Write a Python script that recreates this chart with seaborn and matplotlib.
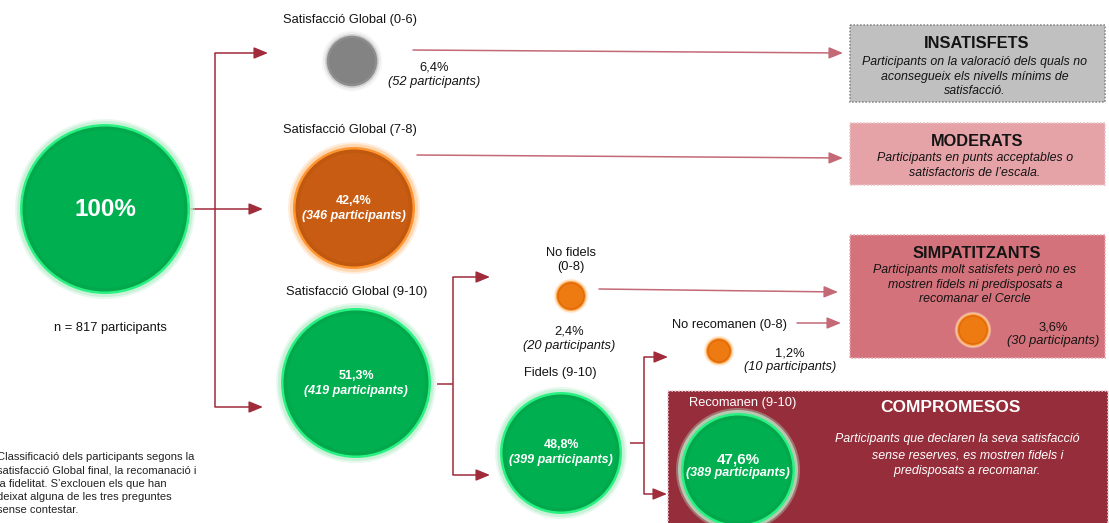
import matplotlib
matplotlib.use("Agg")
import matplotlib.pyplot as plt
import numpy as np
import pandas as pd
import seaborn as sns
from matplotlib.patches import Rectangle

# ---------------------------------------------------------------- data
segments = ["Total", "Satisfacció Global (0-6)", "Satisfacció Global (7-8)",
            "Satisfacció Global (9-10)", "No fidels\n(0-8)", "Fidels (9-10)",
            "No recomanen (0-8)", "Recomanen (9-10)", "Simpatitzants"]
percentages = [100.0, 6.4, 42.4, 51.3, 2.4, 48.8, 1.2, 47.6, 3.6]
participants = [817, 52, 346, 419, 20, 399, 10, 389, 30]
tones = ["green", "gray", "orange", "green", "amber", "green", "amber", "green", "amber"]

profiles = ["INSATISFETS", "MODERATS", "SIMPATITZANTS", "COMPROMESOS"]
profile_texts = [
    "Participants on la valoració dels quals no\naconsegueix els nivells mínims de\nsatisfacció.",
    "Participants en punts acceptables o\nsatisfactoris de l’escala.",
    "Participants molt satisfets però no es\nmostren fidels ni predisposats a\nrecomanar el Cercle",
    "Participants que declaren la seva satisfacció\n      sense reserves, es mostren fidels i\n      predisposats a recomanar.",
]
note = ("Classificació dels participants segons la\n"
        "satisfacció Global final, la recomanació i\n"
        "la fidelitat. S’exclouen els que han\n"
        "deixat alguna de les tres preguntes\n"
        "sense contestar.")

# ---------------------------------------------------------------- layout (pixel canvas)
W, H, DPI = 1109, 523, 100
bx = [105, 352, 354, 356, 571, 561, 719, 738, 973]
by = [209, 61, 208, 383, 296, 453, 351, 470, 330]
br = [85, 27, 61, 75, 15, 61, 13, 57, 16]

# value-label placement: (x, y, inside bubble?)
val_pos = [None, (434, 68, False), (354, 201, True), (356, 376, True),
           (569, 332, False), (561, 445, True), (790, 353, False),
           (738, 459, True), (1053, 327, False)]
name_pos = [None, (350, 20), (350, 130), (357, 292), (571, 260),
            (560, 373), (729, 325), (743, 403), None]

box_rects = [(850, 25, 255, 77), (850, 123, 255, 62), (850, 235, 255, 123), (668, 391, 440, 150)]
box_face = ["#C0C0C0", "#E5A3A8", "#D4727B", "#962D3A"]
box_edge = ["#8C8C8C", "#EBC4C7", "#E6A9AE", "#E8CACE"]
box_title_xy = [(977, 43), (977, 141), (977, 253), (950, 408)]
box_text_xy = [(975, 56), (975, 152), (975, 264), (957, 433)]

tone_colors = {
    "glow": {"green": "#BDEFCF", "orange": "#FFCFA0", "amber": "#FFD9B0", "gray": "#EBEBEB"},
    "rim": {"green": "#2AF282", "orange": "#FF9530", "amber": "#FFA040", "gray": "#D2D2D2"},
    "shade": {"green": "#03A84C", "orange": "#C05810", "amber": "#E06A0C", "gray": "#8E8E8E"},
    "core": {"green": "#00B050", "orange": "#C75C12", "amber": "#EE7A12", "gray": "#838383"},
}

sns.set_theme(style="white")
plt.rcParams["font.family"] = ["Liberation Sans", "DejaVu Sans"]

fig = plt.figure(figsize=(W / DPI, H / DPI), dpi=DPI)
ax = fig.add_axes([0, 0, 1, 1])
ax.set_xlim(0, W)
ax.set_ylim(H, 0)
ax.axis("off")


def fmt_pct(p):
    return f"{p:.1f}".replace(".", ",") + "%"


# ---------------------------------------------------------------- profile boxes
for (x0, y0, w, h), fc, ec in zip(box_rects, box_face, box_edge):
    ax.add_patch(Rectangle((x0, y0), w, h, facecolor=fc, edgecolor=ec,
                           linestyle=(0, (1, 1)), linewidth=1.2, zorder=1))

for i, (name, txt) in enumerate(zip(profiles, profile_texts)):
    dark = i == 3
    tc = "white" if dark else "#141414"
    tx, ty = box_title_xy[i]
    ax.text(tx, ty, name, ha="center", va="center", fontsize=12.5 if dark else 11.8,
            fontweight="bold", color=tc, zorder=5)
    dx, dy = box_text_xy[i]
    ax.text(dx, dy, txt, ha="center", va="top", fontsize=8.9, style="italic",
            color=tc, linespacing=1.45 if dark else 1.3, zorder=5)

# ---------------------------------------------------------------- connectors
main_c = "#A02B3B"
pale_c = "#C46A76"


def seg(p, q, color=main_c, lw=1.1):
    ax.plot([p[0], q[0]], [p[1], q[1]], color=color, lw=lw, solid_capstyle="butt", zorder=2)


def arrow(p, q, color=main_c, lw=1.1):
    ax.annotate("", xy=q, xytext=p,
                arrowprops=dict(arrowstyle="-|>,head_length=0.85,head_width=0.35",
                                color=color, lw=lw, shrinkA=0, shrinkB=0,
                                mutation_scale=10), zorder=2)


# total -> three satisfaction levels
seg((215, 53), (215, 407))
arrow((190, 209), (263, 209))
arrow((215, 53), (268, 53))
arrow((215, 407), (263, 407))
# satisfaction 0-6 / 7-8 -> profiles
arrow((413, 50), (843, 53), pale_c)
arrow((417, 155), (843, 158), pale_c)
# satisfaction 9-10 -> loyalty split
seg((437, 384), (453, 384))
seg((453, 277), (453, 475))
arrow((453, 277), (490, 277))
arrow((453, 475), (490, 475))
arrow((599, 289), (838, 292), pale_c)
# loyal -> recommendation split
seg((630, 443), (644, 443))
seg((644, 357), (644, 494))
arrow((644, 357), (668, 357))
arrow((644, 494), (667, 494))
arrow((797, 323), (841, 323), pale_c)

# ---------------------------------------------------------------- bubbles
bubbles = pd.DataFrame({"segment": segments, "pct": percentages, "n": participants,
                        "tone": tones, "x": bx, "y": by, "r": br})


def pts_area(radius_px):
    d = 2 * np.asarray(radius_px, dtype=float) * 72.0 / DPI
    return d ** 2


def glow_radius(r, px):
    return np.asarray(r, dtype=float) + px


layers = [("glow", 5, 0.35), ("glow", 3, 0.7), ("rim", 0, 1.0),
          ("shade", -2.5, 1.0), ("core", -6, 1.0)]
for key, pad, alpha in layers:
    rr = glow_radius(bubbles["r"], pad * np.clip(bubbles["r"] / 40, 0.45, 1.0))
    sns.scatterplot(data=bubbles, x="x", y="y", hue="tone", palette=tone_colors[key],
                    s=pts_area(rr), linewidth=0, alpha=alpha,
                    legend=False, ax=ax, zorder=3)
ax.set_xlim(0, W)
ax.set_ylim(H, 0)
ax.set_xlabel("")
ax.set_ylabel("")

# ---------------------------------------------------------------- bubble texts
ax.text(bx[0], by[0] + 1, fmt_pct(percentages[0]).replace(",0", ""), ha="center",
        va="center", fontsize=17.5, fontweight="bold", color="white", zorder=6)
ax.text(110, 328, f"n = {participants[0]} participants", ha="center", va="center",
        fontsize=9.3, color="#141414")

for i in range(1, len(segments)):
    if name_pos[i] is not None:
        nx, ny = name_pos[i]
        col = "white" if segments[i].startswith("Recomanen") else "#141414"
        ax.text(nx, ny, segments[i], ha="center", va="center", fontsize=9.3,
                color=col, linespacing=1.3, zorder=6)
    vx, vy, inside = val_pos[i]
    if inside:
        big = segments[i].startswith("Recomanen")
        ax.text(vx, vy, fmt_pct(percentages[i]), ha="center", va="center",
                fontsize=11 if big else 9, fontweight="bold", color="white", zorder=6)
        ax.text(vx, vy + 15 if not big else vy + 14, f"({participants[i]} participants)",
                ha="center", va="center", fontsize=9, fontweight="bold",
                style="italic", color="white", zorder=6)
    else:
        ax.text(vx, vy, fmt_pct(percentages[i]), ha="center", va="center",
                fontsize=9.3, color="#141414", zorder=6)
        ax.text(vx, vy + 14, f"({participants[i]} participants)", ha="center",
                va="center", fontsize=9.3, style="italic", color="#141414", zorder=6)

# ---------------------------------------------------------------- footnote
ax.text(-3, 452, note, ha="left", va="top", fontsize=8, color="#222222",
        linespacing=1.42)

fig.savefig("out.png", dpi=DPI)
